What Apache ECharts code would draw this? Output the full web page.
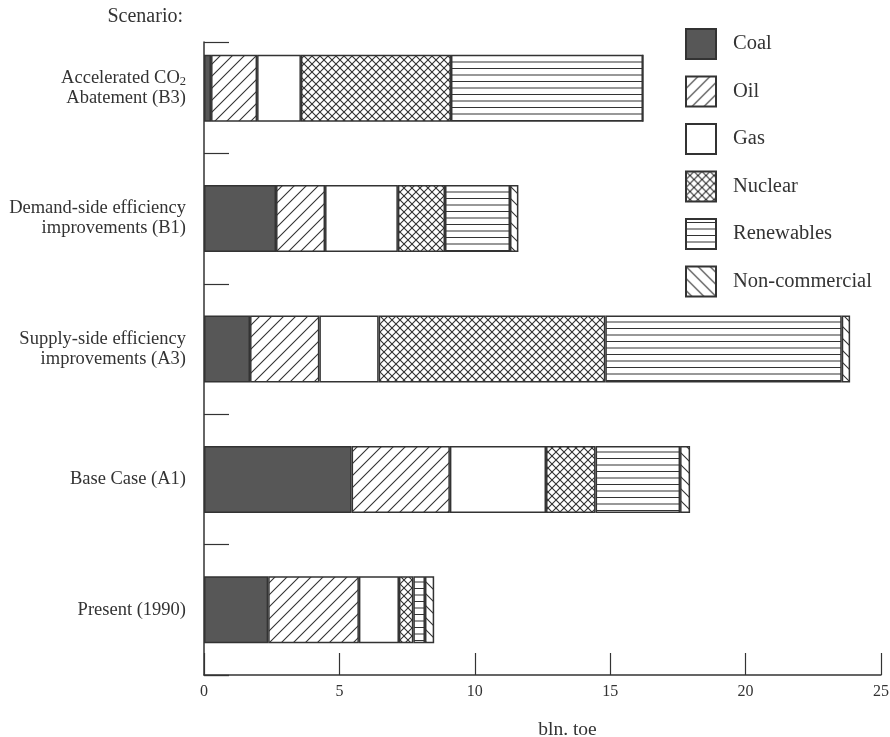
<!DOCTYPE html>
<html><head><meta charset="utf-8">
<script src="https://cdn.jsdelivr.net/npm/echarts@6/dist/echarts.min.js"></script>
<style>html,body{margin:0;padding:0;background:#fff}#c{width:890px;height:737px}</style>
</head><body><div id="c"></div>
<script>
const categories = ['Accelerated CO2\nAbatement (B3)', 'Demand-side efficiency\nimprovements (B1)', 'Supply-side efficiency\nimprovements (A3)', 'Base Case (A1)', 'Present (1990)'];
const seriesNames = ['Coal', 'Oil', 'Gas', 'Nuclear', 'Renewables', 'Non-commercial'];
const coal = [0.26, 2.66, 1.70, 5.45, 2.37];
const oil = [1.70, 1.81, 2.56, 3.63, 3.35];
const gas = [1.62, 2.69, 2.19, 3.55, 1.48];
const nuclear = [5.54, 1.74, 8.37, 1.83, 0.53];
const renewables = [7.09, 2.40, 8.73, 3.12, 0.43];
const noncommercial = [0, 0.31, 0.31, 0.37, 0.34];
const xMin = 0, xMax = 25, xStep = 5;

const INK = '#333';
function pattern(kind) {
  const c = document.createElement('canvas');
  let w = 12, h = 12;
  if (kind === 'cross') { w = 8; h = 8; }
  if (kind === 'horiz') { w = 4; h = 13; }
  c.width = w; c.height = h;
  const g = c.getContext('2d');
  g.fillStyle = '#fff'; g.fillRect(0, 0, w, h);
  g.strokeStyle = INK; g.fillStyle = INK; g.lineWidth = 1.1;
  function fwd() { g.beginPath(); g.moveTo(0, h); g.lineTo(w, 0); g.moveTo(-2, 2); g.lineTo(2, -2); g.moveTo(w - 2, h + 2); g.lineTo(w + 2, h - 2); g.stroke(); }
  function back() { g.beginPath(); g.moveTo(0, 0); g.lineTo(w, h); g.moveTo(-2, h - 2); g.lineTo(2, h + 2); g.moveTo(w - 2, -2); g.lineTo(w + 2, 2); g.stroke(); }
  if (kind === 'fwd') fwd();
  if (kind === 'back') back();
  if (kind === 'cross') { fwd(); back(); }
  if (kind === 'horiz') { g.fillRect(0, 3, w, 1); g.fillRect(0, 9.5, w, 1); }
  return { image: c, repeat: 'repeat' };
}
const fills = ['#575757', pattern('fwd'), '#ffffff', pattern('cross'), pattern('horiz'), pattern('back')];
const values = [coal, oil, gas, nuclear, renewables, noncommercial];
const FONT = 'Liberation Serif';

const chart = echarts.init(document.getElementById('c'), null, { renderer: 'canvas' });
chart.setOption({
  animation: false,
  backgroundColor: '#fff',
  textStyle: { fontFamily: FONT, color: INK },
  grid: [
    { left: 204, right: 9, top: 23, bottom: 62, containLabel: false, outerBoundsMode: 'none' },
    { left: 204, right: 9, top: 42, bottom: 62, containLabel: false, outerBoundsMode: 'none' }
  ],
  legend: {
    orient: 'vertical', left: 685, top: 28, padding: 0, itemWidth: 30, itemHeight: 30, itemGap: 15.5,
    icon: 'rect', data: seriesNames,
    textStyle: { fontFamily: FONT, fontSize: 20.5, color: INK, padding: [0, 0, 0, 12] }
  },
  xAxis: [
    {
      type: 'value', gridIndex: 0, min: xMin, max: xMax, interval: xStep,
      name: 'bln. toe', nameLocation: 'middle', nameGap: 45,
      nameTextStyle: { fontFamily: FONT, fontSize: 19.5, color: INK, padding: [0, 0, 0, 50] },
      axisLine: { show: true, lineStyle: { color: INK, width: 1.5 } },
      axisTick: { show: true, inside: true, length: 22, lineStyle: { color: INK, width: 1.2 } },
      axisLabel: { fontFamily: FONT, fontSize: 16, color: INK, margin: 9 },
      splitLine: { show: false }
    },
    { type: 'value', gridIndex: 1, min: 0, max: 1, show: false }
  ],
  yAxis: [
    {
      type: 'category', gridIndex: 0, inverse: true, data: categories,
      axisLine: { show: false },
      axisTick: { show: true, inside: true, length: 25, lineStyle: { color: INK, width: 1.2 },
        interval: function (i) { return i !== 0; } },
      axisLabel: {
        fontFamily: FONT, fontSize: 18.5, color: INK, margin: 18, align: 'right', lineHeight: 20,
        formatter: function (v) { return v.replace('CO2', 'CO{sub|2}'); },
        rich: { sub: { fontFamily: FONT, fontSize: 12.5, color: INK, verticalAlign: 'bottom', lineHeight: 12, padding: [13, 0, 0, 0] } }
      },
      splitLine: { show: false }
    },
    {
      type: 'value', gridIndex: 1, min: 0, max: 1, interval: 1,
      name: 'Scenario:', nameLocation: 'end', nameGap: 25,
      nameTextStyle: { fontFamily: FONT, fontSize: 20, color: INK, align: 'right', verticalAlign: 'middle', padding: [0, 21, 0, 0] },
      axisLine: { show: true, lineStyle: { color: INK, width: 1.5 } },
      axisTick: { show: true, inside: true, length: 25, lineStyle: { color: INK, width: 1.2 } },
      axisLabel: { show: false }, splitLine: { show: false }
    }
  ],
  series: seriesNames.map(function (n, k) {
    return {
      name: n, type: 'bar', stack: 'total', xAxisIndex: 0, yAxisIndex: 0,
      barWidth: 67, data: values[k],
      itemStyle: { color: fills[k], borderColor: INK, borderWidth: 1.5 }
    };
  })
});
</script></body></html>
